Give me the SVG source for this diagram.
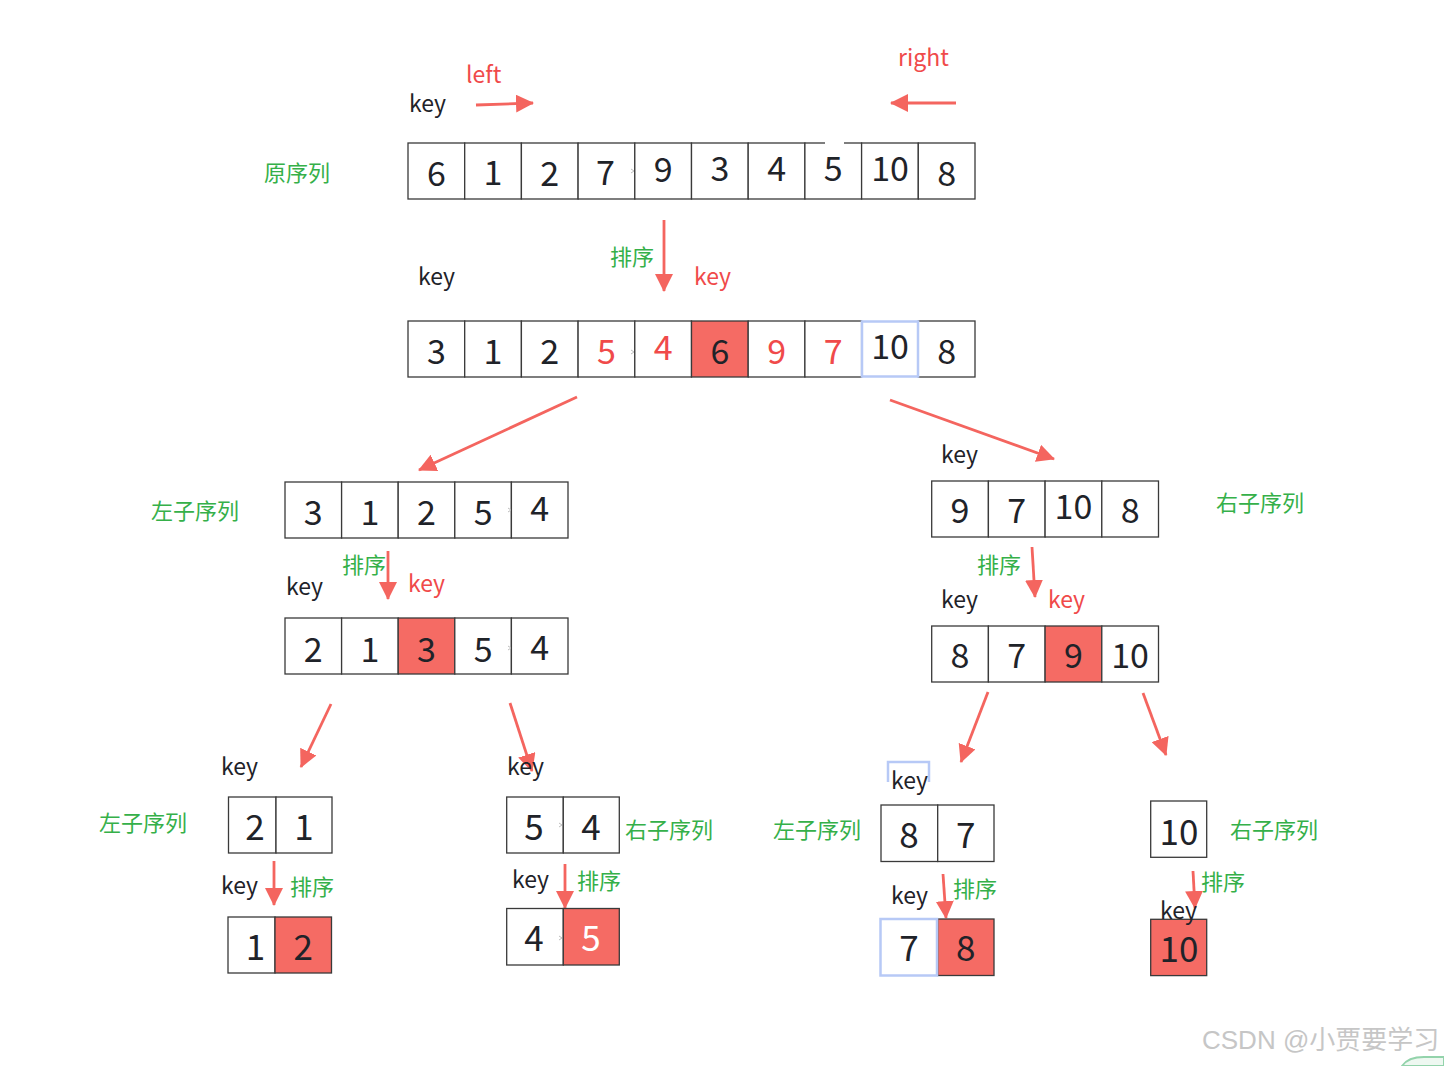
<svg xmlns="http://www.w3.org/2000/svg" width="1444" height="1066" viewBox="0 0 1444 1066">
<style>
.bg{fill:#ffffff}
.cell{fill:#ffffff;stroke:#3a3a3a;stroke-width:1.3}
.hot{fill:#f56b64;stroke:#3a3a3a;stroke-width:1.3}
.sel{fill:#ffffff;stroke:#b7c9f6;stroke-width:2.5}
.num{font-family:"Noto Sans CJK SC","Noto Sans",sans-serif;font-size:34px;fill:#1f2329;text-anchor:middle}
.big{font-size:35px}
.rnum{fill:#f04a4a}
.wnum{fill:#ffffff}
.key{font-family:"Noto Sans CJK SC","Noto Sans",sans-serif;font-size:23px;fill:#1f2329}
.rkey{fill:#f04a4a}
.lab{font-family:"Noto Sans CJK SC",sans-serif;font-size:22px;fill:#35b049}
.arr{stroke:#f4655f;stroke-width:2.8;fill:none;marker-end:url(#ah)}
.tick{stroke:#bdbdbd;stroke-width:1;fill:none}
</style>
<defs>
<marker id="ah" markerUnits="userSpaceOnUse" markerWidth="18" markerHeight="18" viewBox="0 0 18 18" refX="17" refY="9" orient="auto"><path d="M0,0 L18,9 L0,18 z" fill="#f4655f"/></marker>
</defs>
<rect class="bg" x="0" y="0" width="1444" height="1066"/>

<g id="connectors">
<line class="arr" x1="476" y1="105" x2="533" y2="103"/>
<line class="arr" x1="956" y1="103" x2="891" y2="103"/>
<line class="arr" x1="664" y1="220" x2="664" y2="291"/>
<line class="arr" x1="577" y1="397" x2="419" y2="470"/>
<line class="arr" x1="890" y1="400" x2="1054" y2="459"/>
<line class="arr" x1="388" y1="551" x2="388" y2="599"/>
<line class="arr" x1="1032" y1="547" x2="1035" y2="597"/>
<line class="arr" x1="331" y1="704" x2="301" y2="767"/>
<line class="arr" x1="510" y1="703" x2="532" y2="771"/>
<line class="arr" x1="988" y1="692" x2="961" y2="762"/>
<line class="arr" x1="1143" y1="693" x2="1166" y2="755"/>
<line class="arr" x1="274" y1="861" x2="274" y2="905"/>
<line class="arr" x1="565" y1="864" x2="565" y2="908"/>
<line class="arr" x1="943" y1="874" x2="946" y2="918"/>
<line class="arr" x1="1193" y1="871" x2="1195" y2="908"/>
</g>

<g id="labels-top">
<text class="key" x="409" y="112">key</text>
<text class="key rkey" x="466" y="83">left</text>
<text class="key rkey" x="898" y="66">right</text>
<text class="lab" x="264" y="181">原序列</text>
<text class="lab" x="610" y="265">排序</text>
<text class="key" x="418" y="285">key</text>
<text class="key rkey" x="694" y="285">key</text>
</g>

<g id="row-original">
<rect class="cell" x="408" y="143" width="56.7" height="56"/>
<rect class="cell" x="464.7" y="143" width="56.7" height="56"/>
<rect class="cell" x="521.4" y="143" width="56.7" height="56"/>
<rect class="cell" x="578.1" y="143" width="56.7" height="56"/>
<rect class="cell" x="634.8" y="143" width="56.7" height="56"/>
<rect class="cell" x="691.5" y="143" width="56.7" height="56"/>
<rect class="cell" x="748.2" y="143" width="56.7" height="56"/>
<rect class="cell" x="804.9" y="143" width="56.7" height="56"/>
<rect class="cell" x="861.6" y="143" width="56.7" height="56"/>
<rect class="cell" x="918.3" y="143" width="56.7" height="56"/>
<rect x="825" y="141" width="19" height="4" fill="#ffffff"/>
<path class="tick" d="M631,169 l3,2 l-3,2"/>
<text class="num" x="436.4" y="186">6</text>
<text class="num" x="493" y="185">1</text>
<text class="num" x="549.7" y="186">2</text>
<text class="num" x="605.5" y="185">7</text>
<text class="num" x="663.2" y="182">9</text>
<text class="num" x="719.9" y="181">3</text>
<text class="num" x="776.6" y="181">4</text>
<text class="num" x="833.3" y="181">5</text>
<text class="num" x="890" y="181">10</text>
<text class="num" x="946.7" y="186">8</text>
</g>

<g id="row-sorted">
<rect class="cell" x="408" y="321" width="56.7" height="56"/>
<rect class="cell" x="464.7" y="321" width="56.7" height="56"/>
<rect class="cell" x="521.4" y="321" width="56.7" height="56"/>
<rect class="cell" x="578.1" y="321" width="56.7" height="56"/>
<rect class="cell" x="634.8" y="321" width="56.7" height="56"/>
<rect class="hot" x="691.5" y="321" width="56.7" height="56"/>
<rect class="cell" x="748.2" y="321" width="56.7" height="56"/>
<rect class="cell" x="804.9" y="321" width="56.7" height="56"/>
<rect class="cell" x="918.3" y="321" width="56.7" height="56"/>
<rect class="sel" x="862" y="321.5" width="56" height="55"/>
<path class="tick" d="M631,350 l3,2 l-3,2"/>
<text class="num" x="436.4" y="364">3</text>
<text class="num" x="493" y="364">1</text>
<text class="num" x="549.7" y="364">2</text>
<text class="num rnum" x="606.4" y="364">5</text>
<text class="num rnum" x="663.2" y="360">4</text>
<text class="num" x="719.9" y="364">6</text>
<text class="num rnum" x="776.6" y="364">9</text>
<text class="num rnum" x="833.3" y="364">7</text>
<text class="num" x="890" y="359">10</text>
<text class="num" x="946.7" y="364">8</text>
</g>

<g id="left-sub">
<text class="lab" x="151" y="519">左子序列</text>
<rect class="cell" x="285" y="482" width="56.6" height="56"/>
<rect class="cell" x="341.6" y="482" width="56.6" height="56"/>
<rect class="cell" x="398.2" y="482" width="56.6" height="56"/>
<rect class="cell" x="454.8" y="482" width="56.6" height="56"/>
<rect class="cell" x="511.4" y="482" width="56.6" height="56"/>
<path class="tick" d="M508,508 l3,2 l-3,2"/>
<text class="num" x="313.3" y="525">3</text>
<text class="num" x="369.9" y="525">1</text>
<text class="num" x="426.5" y="525">2</text>
<text class="num" x="483.1" y="525">5</text>
<text class="num" x="539.7" y="521">4</text>
</g>

<g id="left-sub-sorted">
<text class="lab" x="342" y="573">排序</text>
<text class="key" x="286" y="595">key</text>
<text class="key rkey" x="408" y="592">key</text>
<rect class="cell" x="285" y="618" width="56.6" height="56"/>
<rect class="cell" x="341.6" y="618" width="56.6" height="56"/>
<rect class="hot" x="398.2" y="618" width="56.6" height="56"/>
<rect class="cell" x="454.8" y="618" width="56.6" height="56"/>
<rect class="cell" x="511.4" y="618" width="56.6" height="56"/>
<path class="tick" d="M508,646 l3,2 l-3,2"/>
<text class="num" x="313.3" y="662">2</text>
<text class="num" x="369.9" y="662">1</text>
<text class="num" x="426.5" y="662">3</text>
<text class="num" x="483.1" y="662">5</text>
<text class="num" x="539.7" y="660">4</text>
</g>

<g id="right-sub">
<text class="key" x="941" y="463">key</text>
<text class="lab" x="1216" y="511">右子序列</text>
<rect class="cell" x="931.7" y="481" width="56.7" height="56"/>
<rect class="cell" x="988.4" y="481" width="56.7" height="56"/>
<rect class="cell" x="1045.1" y="481" width="56.7" height="56"/>
<rect class="cell" x="1101.8" y="481" width="56.7" height="56"/>
<text class="num" x="960" y="523">9</text>
<text class="num" x="1016.7" y="523">7</text>
<text class="num" x="1073.4" y="519">10</text>
<text class="num" x="1130.1" y="523">8</text>
</g>

<g id="right-sub-sorted">
<text class="lab" x="977" y="573">排序</text>
<text class="key" x="941" y="608">key</text>
<text class="key rkey" x="1048" y="608">key</text>
<rect class="cell" x="931.7" y="626" width="56.7" height="56"/>
<rect class="cell" x="988.4" y="626" width="56.7" height="56"/>
<rect class="hot" x="1045.1" y="626" width="56.7" height="56"/>
<rect class="cell" x="1101.8" y="626" width="56.7" height="56"/>
<text class="num" x="960" y="668">8</text>
<text class="num" x="1016.7" y="668">7</text>
<text class="num" x="1073.4" y="668">9</text>
<text class="num" x="1130.1" y="668">10</text>
</g>

<g id="ll-sub">
<text class="key" x="221" y="775">key</text>
<text class="lab" x="99" y="831">左子序列</text>
<rect class="cell" x="228.5" y="797" width="47.5" height="56"/>
<rect class="cell" x="276" y="797" width="56" height="56"/>
<text class="num big" x="255" y="840">2</text>
<text class="num big" x="304" y="840">1</text>
</g>

<g id="ll-sorted">
<text class="key" x="221" y="894">key</text>
<text class="lab" x="290" y="895">排序</text>
<rect class="cell" x="228" y="917" width="47" height="56"/>
<rect class="hot" x="275" y="917" width="56.5" height="56"/>
<text class="num big" x="255.5" y="960">1</text>
<text class="num big" x="303.3" y="960">2</text>
</g>

<g id="lr-sub">
<text class="key" x="507" y="775">key</text>
<text class="lab" x="625" y="838">右子序列</text>
<rect class="cell" x="506.7" y="797" width="56.6" height="56"/>
<rect class="cell" x="563.3" y="797" width="56" height="56"/>
<path class="tick" d="M559,823 l3,2 l-3,2"/>
<text class="num big" x="534" y="840">5</text>
<text class="num big" x="591" y="840">4</text>
</g>

<g id="lr-sorted">
<text class="key" x="512" y="888">key</text>
<text class="lab" x="577" y="889">排序</text>
<rect class="cell" x="506.7" y="908.5" width="56.6" height="56.5"/>
<rect class="hot" x="563.3" y="908.5" width="56" height="56.5"/>
<path class="tick" d="M559,936 l3,2 l-3,2"/>
<text class="num big" x="534" y="951">4</text>
<text class="num big wnum" x="591" y="951">5</text>
</g>

<g id="rl-sub">
<path d="M888,782 V762 H929 V782" fill="none" stroke="#b7c9f6" stroke-width="2.5"/>
<text class="key" x="891" y="789">key</text>
<text class="lab" x="773" y="838">左子序列</text>
<rect class="cell" x="881" y="805" width="56.7" height="56.5"/>
<rect class="cell" x="937.7" y="805" width="56.3" height="56.5"/>
<text class="num big" x="909" y="848">8</text>
<text class="num big" x="965.7" y="848">7</text>
</g>

<g id="rl-sorted">
<text class="key" x="891" y="904">key</text>
<text class="lab" x="953" y="897">排序</text>
<rect class="hot" x="937.7" y="919" width="56.3" height="56.5"/>
<rect class="sel" x="880.5" y="919" width="56.5" height="56.5"/>
<text class="num big" x="909" y="961">7</text>
<text class="num big" x="965.7" y="961">8</text>
</g>

<g id="rr-sub">
<text class="lab" x="1230" y="838">右子序列</text>
<rect class="cell" x="1150.7" y="801" width="56" height="56.3"/>
<text class="num big" x="1179" y="845">10</text>
</g>

<g id="rr-sorted">
<text class="lab" x="1201" y="890">排序</text>
<rect class="hot" x="1150.7" y="919.3" width="56" height="56.3"/>
<text class="key" x="1160" y="919">key</text>
<text class="num big" x="1179" y="962">10</text>
</g>

<g id="watermark">
<path d="M1402,1066 Q1408,1057 1424,1057 H1444 V1066 Z" fill="#eef8f1" stroke="#93d3ab" stroke-width="2"/>
<text x="1202" y="1049" font-family="Liberation Sans, Noto Sans CJK SC, sans-serif" font-size="26" fill="#c6c6c6">CSDN @小贾要学习</text>
</g>
</svg>
